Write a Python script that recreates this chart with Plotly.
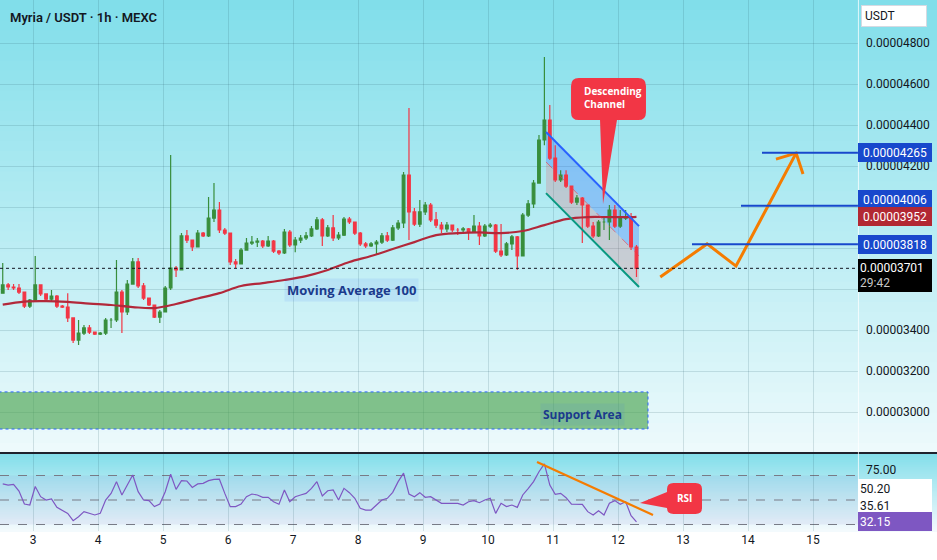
import numpy as np
import plotly.graph_objects as go
from plotly.subplots import make_subplots

# ---------------- data ----------------
# prices are in units of 0.00000001 USDT (1e-8)
first_candle_day = 2.534          # day of month of the first visible candle
candle_hours = 2
first_open = 3580
closes = [3620, 3610, 3605, 3585, 3517, 3546, 3620, 3576, 3551, 3566,
          3517, 3512, 3459, 3351, 3385, 3410, 3390, 3380, 3385, 3449,
          3449, 3585, 3488, 3624, 3732, 3615, 3556, 3522, 3463, 3488,
          3605, 3702, 3693, 3859, 3839, 3805, 3873, 3859, 3946, 3985,
          3888, 3873, 3732, 3722, 3790, 3824, 3829, 3834, 3810, 3834,
          3785, 3776, 3878, 3815, 3839, 3849, 3859, 3893, 3937, 3859,
          3898, 3849, 3863, 3941, 3927, 3873, 3820, 3810, 3820, 3829,
          3859, 3839, 3898, 3922, 4156, 3976, 3917, 3976, 4010, 3937,
          3912, 3893, 3912, 3888, 3888, 3893, 3878, 3907, 3859, 3907,
          3912, 3785, 3766, 3820, 3854, 3761, 3961, 4015, 4117, 4327,
          4424, 4239, 4132, 4156, 4102, 4024, 4044, 4010, 3907, 3859,
          3927, 3927, 3985, 3907, 3946, 3951, 3805, 3701]
highs = [3727, 3629, 3624, 3624, 3585, 3551, 3761, 3620, 3580, 3595,
         3571, 3522, 3580, 3459, 3449, 3424, 3424, 3390, 3390, 3459,
         3459, 3741, 3595, 3644, 3751, 3751, 3629, 3556, 3522, 3498,
         3615, 4254, 3712, 3873, 3888, 3839, 3888, 3878, 4049, 4117,
         4024, 3898, 3873, 3746, 3800, 3849, 3859, 3849, 3839, 3859,
         3839, 3790, 3893, 3888, 3854, 3863, 3878, 3907, 3951, 3946,
         3912, 3961, 3878, 3951, 3951, 3927, 3878, 3829, 3829, 3839,
         3873, 3878, 3912, 3937, 4171, 4483, 3995, 4034, 4024, 4020,
         3976, 3927, 3927, 3907, 3898, 3902, 3898, 3961, 3927, 3917,
         3922, 3917, 3917, 3829, 3863, 3859, 3971, 4034, 4132, 4351,
         4732, 4498, 4302, 4180, 4180, 4102, 4059, 4049, 4010, 3927,
         3937, 3946, 4010, 4010, 3985, 3985, 3971, 3815]
lows = [3580, 3595, 3595, 3576, 3507, 3507, 3541, 3566, 3541, 3541,
        3507, 3507, 3439, 3337, 3327, 3376, 3380, 3376, 3376, 3376,
        3410, 3439, 3385, 3473, 3624, 3605, 3546, 3517, 3459, 3434,
        3488, 3595, 3659, 3693, 3824, 3785, 3805, 3854, 3854, 3927,
        3873, 3863, 3717, 3702, 3722, 3790, 3815, 3805, 3800, 3805,
        3776, 3766, 3771, 3805, 3780, 3824, 3839, 3854, 3888, 3810,
        3854, 3834, 3839, 3859, 3917, 3863, 3810, 3800, 3805, 3766,
        3820, 3829, 3834, 3888, 3898, 3839, 3907, 3902, 3961, 3927,
        3898, 3873, 3878, 3878, 3863, 3873, 3839, 3873, 3815, 3854,
        3898, 3776, 3756, 3761, 3790, 3693, 3761, 3951, 3995, 4117,
        4302, 4229, 4122, 4122, 4093, 4015, 4010, 3824, 3898, 3849,
        3854, 3888, 3839, 3898, 3898, 3937, 3790, 3659]
ma100_every = 4   # one MA reading every 4 candles, plus the last candle
ma100 = [3524, 3539, 3541, 3537, 3529, 3522, 3512, 3507, 3527, 3554,
         3580, 3615, 3629, 3644, 3663, 3693, 3732, 3761, 3795, 3829,
         3863, 3873, 3876, 3873, 3883, 3912, 3941, 3951, 3951, 3951, 3952]
rsi = [63.1, 62.2, 62.8, 57.3, 46.7, 45.9, 61.0, 52.7, 50.0, 50.8,
       44.0, 41.8, 39.1, 33.1, 36.4, 40.5, 39.1, 37.8, 39.1, 50.0,
       55.4, 65.0, 54.1, 62.8, 70.4, 56.8, 50.0, 49.5, 44.6, 46.7,
       56.8, 71.0, 58.7, 65.8, 65.5, 60.3, 63.1, 63.6, 65.8, 66.9,
       67.0, 55.4, 44.6, 44.6, 46.7, 52.7, 54.9, 54.1, 52.2, 52.2,
       48.6, 46.5, 58.2, 48.6, 52.7, 54.1, 55.4, 59.5, 65.0, 53.3,
       57.6, 58.2, 50.0, 59.5, 56.0, 51.4, 43.2, 41.8, 41.8, 45.9,
       50.0, 51.4, 56.3, 65.0, 72.0, 54.9, 52.7, 56.0, 52.2, 52.7,
       50.0, 47.3, 47.3, 47.3, 47.3, 45.9, 48.6, 49.5, 47.8, 50.0,
       51.4, 39.1, 47.3, 44.6, 45.9, 44.0, 54.1, 59.3, 65.0, 73.1,
       79.5, 62.2, 54.6, 55.4, 51.9, 46.7, 46.7, 46.5, 40.5, 37.8,
       41.3, 37.8, 47.3, 49.5, 46.5, 48.6, 37.2, 32.15]
rsi_labels = [50.20, 35.61]
price_ticks = [3000, 3200, 3400, 3600, 3800, 4000, 4200, 4400, 4600, 4800]
hidden_price_ticks = [3600, 3800, 4000]   # covered by the price labels on the scale
day_ticks = [3, 4, 5, 6, 7, 8, 9, 10, 11, 12, 13, 14, 15]

# drawings (day of month, price units)
channel_days = [10.892, 12.323]
channel_upper = [4366, 3907]
channel_mid = [4220, 3761]
channel_lower = [4068, 3610]
target_levels = [3818, 4006, 4265]
target_start_days = [13.138, 13.892, 14.215]
path_days = [12.65, 13.37, 13.815, 14.74]
path_prices = [3659, 3820, 3712, 4263]
arrow_days = [14.43, 14.74, 14.846]
arrow_prices = [4234, 4263, 4161]
support_days = [2.3, 12.461]
support_prices = [2917, 3098]
rsi_trend_days = [10.754, 12.538]
rsi_trend_vals = [81.0, 37.8]

# ---------------- styling ----------------
GREEN = "#388e3c"
RED = "#f23645"
MA_RED = "#b2283a"
BLUE_LINE = "#1848cc"
ORANGE = "#f57c00"
TXT = "#131722"
GRID = "rgba(40,90,100,0.16)"
FONT = "Roboto"

XR = [2.492, 15.692]
YR = [2805, 5010]
RSIR = [24.7, 87.55]
MAIN_DOM = [0.1488, 1.0]
RSI_DOM = [0.0, 0.145]

n = len(closes)
x = first_candle_day + np.arange(n) * candle_hours / 24.0
opens = [first_open] + closes[:-1]
hi = [max(h, o, c) for h, o, c in zip(highs, opens, closes)]
lo = [min(l, o, c) for l, o, c in zip(lows, opens, closes)]
ma_idx = list(range(0, n, ma100_every)) + [n - 1]
ma_x = x[ma_idx]

fig = make_subplots(rows=2, cols=1, shared_xaxes=True, vertical_spacing=0.0)

fig.add_trace(go.Candlestick(
    x=x, open=opens, high=hi, low=lo, close=closes,
    increasing=dict(line=dict(color=GREEN, width=1.2), fillcolor=GREEN),
    decreasing=dict(line=dict(color=RED, width=1.2), fillcolor=RED),
    whiskerwidth=0, showlegend=False, hoverinfo="skip"), row=1, col=1)

fig.add_trace(go.Scatter(x=ma_x, y=ma100, mode="lines", line=dict(color=MA_RED, width=2.2, shape="spline"),
                         showlegend=False, hoverinfo="skip"), row=1, col=1)

# orange projected path
fig.add_trace(go.Scatter(x=path_days, y=path_prices, mode="lines", line=dict(color=ORANGE, width=3),
                         showlegend=False, hoverinfo="skip"), row=1, col=1)
fig.add_trace(go.Scatter(x=arrow_days, y=arrow_prices, mode="lines", line=dict(color=ORANGE, width=3),
                         showlegend=False, hoverinfo="skip"), row=1, col=1)

# RSI
fig.add_trace(go.Scatter(x=x, y=rsi, mode="lines", line=dict(color="#7e57c2", width=1.2),
                         showlegend=False, hoverinfo="skip"), row=2, col=1)
fig.add_trace(go.Scatter(x=rsi_trend_days, y=rsi_trend_vals, mode="lines", line=dict(color=ORANGE, width=2.2),
                         showlegend=False, hoverinfo="skip"), row=2, col=1)

shapes = []

# gradient backgrounds
def bands(top, bot, ctop, cbot, k=45):
    out = []
    for i in range(k):
        t = (i + 0.5) / k
        c = [int(round(a + (b - a) * t)) for a, b in zip(ctop, cbot)]
        y1 = top - (top - bot) * i / k
        y0 = top - (top - bot) * (i + 1) / k
        out.append(dict(type="rect", xref="paper", yref="paper", x0=-0.01, x1=1.1,
                        y0=y0 - 0.002, y1=y1, fillcolor="rgb(%d,%d,%d)" % tuple(c),
                        line=dict(width=0), layer="below"))
    return out

shapes += bands(1.0, 0.1469, (128, 222, 234), (238, 250, 252))
shapes += bands(0.1469, 0.0, (130, 222, 234), (244, 250, 253))

# RSI band and levels
shapes.append(dict(type="rect", xref="paper", yref="y2", x0=0, x1=1, y0=30, y1=70,
                   fillcolor="rgba(126,87,194,0.08)", line=dict(width=0), layer="between"))
for lv in (70, 50, 30):
    shapes.append(dict(type="line", xref="paper", yref="y2", x0=0, x1=1, y0=lv, y1=lv,
                       line=dict(color="#787b86", width=1, dash="dash"), layer="between"))

# support zone
shapes.append(dict(type="rect", xref="x", yref="y", x0=support_days[0], x1=support_days[1],
                   y0=support_prices[0], y1=support_prices[1], fillcolor="rgba(67,160,71,0.62)",
                   line=dict(color="#2962ff", width=1, dash="dot"), layer="between"))

# descending channel fills
cd, cu, cm, cl = channel_days, channel_upper, channel_mid, channel_lower
shapes.append(dict(type="path", xref="x", yref="y", layer="between",
                   path="M %f,%f L %f,%f L %f,%f L %f,%f Z" % (cd[0], cu[0], cd[1], cu[1], cd[1], cm[1], cd[0], cm[0]),
                   fillcolor="rgba(41,98,255,0.28)", line=dict(width=0)))
shapes.append(dict(type="path", xref="x", yref="y", layer="between",
                   path="M %f,%f L %f,%f L %f,%f L %f,%f Z" % (cd[0], cm[0], cd[1], cm[1], cd[1], cl[1], cd[0], cl[0]),
                   fillcolor="rgba(242,54,69,0.18)", line=dict(width=0)))
shapes.append(dict(type="line", xref="x", yref="y", x0=cd[0], x1=cd[1], y0=cu[0], y1=cu[1],
                   line=dict(color="#2962ff", width=2), layer="above"))
shapes.append(dict(type="line", xref="x", yref="y", x0=cd[0], x1=cd[1], y0=cm[0], y1=cm[1],
                   line=dict(color="rgba(242,54,69,0.6)", width=1, dash="dash"), layer="above"))
shapes.append(dict(type="line", xref="x", yref="y", x0=cd[0], x1=cd[1], y0=cl[0], y1=cl[1],
                   line=dict(color="#089981", width=2), layer="above"))

# target lines
for lv, d0 in zip(target_levels, target_start_days):
    shapes.append(dict(type="line", xref="x", yref="y", x0=d0, x1=XR[1], y0=lv, y1=lv,
                       line=dict(color=BLUE_LINE, width=2), layer="above"))

# current price dotted line
shapes.append(dict(type="line", xref="paper", yref="y", x0=0, x1=1, y0=closes[-1], y1=closes[-1],
                   line=dict(color="#131722", width=1, dash="dot"), layer="above"))

# pane separator and scale separator
shapes.append(dict(type="line", xref="paper", yref="paper", x0=-0.01, x1=1.1, y0=0.1469, y1=0.1469,
                   line=dict(color="#1e222d", width=2), layer="above"))
shapes.append(dict(type="line", xref="paper", yref="paper", x0=1.0005, x1=1.0005, y0=0, y1=1,
                   line=dict(color="rgba(255,255,255,0.75)", width=1), layer="above"))

# callouts
def callout_down(x0, x1, y0, y1, rx, ry, bx0, bx1, tx, ty):
    return ("M %f,%f L %f,%f Q %f,%f %f,%f L %f,%f Q %f,%f %f,%f L %f,%f L %f,%f L %f,%f "
            "L %f,%f Q %f,%f %f,%f L %f,%f Q %f,%f %f,%f Z") % (
        x0 + rx, y1, x1 - rx, y1, x1, y1, x1, y1 - ry, x1, y0 + ry, x1, y0, x1 - rx, y0,
        bx1, y0, tx, ty, bx0, y0, x0 + rx, y0, x0, y0, x0, y0 + ry, x0, y1 - ry, x0, y1, x0 + rx, y1)

def callout_left(x0, x1, y0, y1, rx, ry, by0, by1, tx, ty):
    return ("M %f,%f L %f,%f Q %f,%f %f,%f L %f,%f Q %f,%f %f,%f L %f,%f Q %f,%f %f,%f "
            "L %f,%f L %f,%f L %f,%f L %f,%f Q %f,%f %f,%f Z") % (
        x0 + rx, y1, x1 - rx, y1, x1, y1, x1, y1 - ry, x1, y0 + ry, x1, y0, x1 - rx, y0,
        x0 + rx, y0, x0, y0, x0, y0 + ry, x0, by0, tx, ty, x0, by1, x0, y1 - ry, x0, y1, x0 + rx, y1)

CALLOUT = "#f23645"
shapes.append(dict(type="path", xref="x", yref="y", layer="above", fillcolor=CALLOUT, line=dict(width=0),
                   path=callout_down(11.277, 12.43, 4424, 4629, 0.12, 39, 11.723, 11.984, 11.769, 4015)))
shapes.append(dict(type="path", xref="x2", yref="y2", layer="above", fillcolor=CALLOUT, line=dict(width=0),
                   path=callout_left(12.754, 13.292, 38.6, 63.9, 0.1, 4.9, 43.5, 56.5, 12.338, 47.6)))

annotations = []
annotations.append(dict(xref="paper", yref="paper", x=8 / 858, y=1 - 17 / 531, xanchor="left", yanchor="middle",
                        text="Myria / USDT · 1h · MEXC", showarrow=False,
                        font=dict(family=FONT, size=13, color=TXT, weight=600)))
annotations.append(dict(xref="x", yref="y", x=11.446, y=4532, xanchor="left", yanchor="middle", align="left",
                        text="Descending<br>Channel", showarrow=False,
                        font=dict(family="Open Sans", size=10, color="white", weight="bold")))
annotations.append(dict(xref="x2", yref="y2", x=13.023, y=51.3, xanchor="center", yanchor="middle",
                        text="RSI", showarrow=False,
                        font=dict(family="Open Sans", size=10, color="white", weight="bold")))
annotations.append(dict(xref="x", yref="y", x=7.892, y=3595, xanchor="center", yanchor="middle",
                        text="Moving Average 100", showarrow=False, bgcolor="rgba(41,98,255,0.09)", borderpad=2,
                        font=dict(family="Open Sans", size=13, color="#1b3a8c", weight="bold")))
annotations.append(dict(xref="x", yref="y", x=11.461, y=2990, xanchor="center", yanchor="middle",
                        text="Support Area", showarrow=False, bgcolor="rgba(41,98,255,0.08)", borderpad=2,
                        font=dict(family="Open Sans", size=12, color="#1b3a8c", weight="bold")))

def scale_label(y, yref, text, bg, fg, yshift=0, height=15, yanchor="middle", align="center", border=None):
    return dict(xref="paper", yref=yref, x=1.0, y=y, xanchor="left", yanchor=yanchor, yshift=yshift,
                text=text, showarrow=False, bgcolor=bg, width=70, height=height, align=align,
                borderpad=1, bordercolor=border or bg, borderwidth=1,
                font=dict(family=FONT, size=12, color=fg))

annotations.append(scale_label(target_levels[2], "y", "0.%08d" % target_levels[2], BLUE_LINE, "white"))
annotations.append(scale_label(target_levels[1], "y", "0.%08d" % target_levels[1], BLUE_LINE, "white", yshift=6))
annotations.append(scale_label(ma100[-1], "y", "0.%08d" % ma100[-1], "#b22833", "white"))
annotations.append(scale_label(target_levels[0], "y", "0.%08d" % target_levels[0], BLUE_LINE, "white"))
annotations.append(scale_label(closes[-1], "y",
                               "0.%08d<br><span style='color:#c8c8c8'>29:42</span>" % closes[-1],
                               "#000000", "white", yshift=9, height=29, yanchor="top", align="left"))
annotations.append(scale_label(rsi_labels[0], "y2", "%.2f" % rsi_labels[0], "white", TXT, yshift=11, align="left"))
annotations.append(scale_label(rsi_labels[1], "y2", "%.2f" % rsi_labels[1], "white", TXT, yshift=12.5, align="left"))
annotations.append(scale_label(rsi[-1], "y2", "%.2f" % rsi[-1], "#7e57c2", "white", align="left"))
annotations.append(dict(xref="paper", yref="paper", x=1.0 + 3 / 858, y=1 - 16 / 531, xanchor="left",
                        yanchor="middle", text="USDT", showarrow=False, bgcolor="white", bordercolor="#d6dae2",
                        borderwidth=1, borderpad=3, width=58, align="left",
                        font=dict(family=FONT, size=12, color=TXT)))

fig.update_layout(
    width=937, height=560, margin=dict(l=0, r=79, t=0, b=29),
    paper_bgcolor="white", plot_bgcolor="rgba(0,0,0,0)",
    shapes=shapes, annotations=annotations, showlegend=False,
    font=dict(family=FONT, size=12, color=TXT),
)
fig.update_xaxes(range=XR, tickvals=day_ticks, ticktext=[str(d) for d in day_ticks],
                 showgrid=True, gridcolor=GRID, gridwidth=1, zeroline=False, showline=False,
                 rangeslider=dict(visible=False), ticks="", tickfont=dict(family=FONT, size=12, color=TXT))
fig.update_yaxes(domain=MAIN_DOM, range=YR, side="right", tickvals=price_ticks,
                 ticktext=["" if v in hidden_price_ticks else "0.%08d" % v for v in price_ticks],
                 showgrid=True, gridcolor=GRID,
                 zeroline=False, showline=False, ticks="", ticklabelstandoff=7, automargin=False,
                 tickfont=dict(family=FONT, size=12, color=TXT), row=1, col=1)
fig.update_yaxes(domain=RSI_DOM, range=RSIR, side="right", tickvals=[75], ticktext=["75.00"],
                 showgrid=False, zeroline=False, showline=False, ticks="", ticklabelstandoff=7,
                 automargin=False, tickfont=dict(family=FONT, size=12, color=TXT), row=2, col=1)

fig.write_html("out.html")
